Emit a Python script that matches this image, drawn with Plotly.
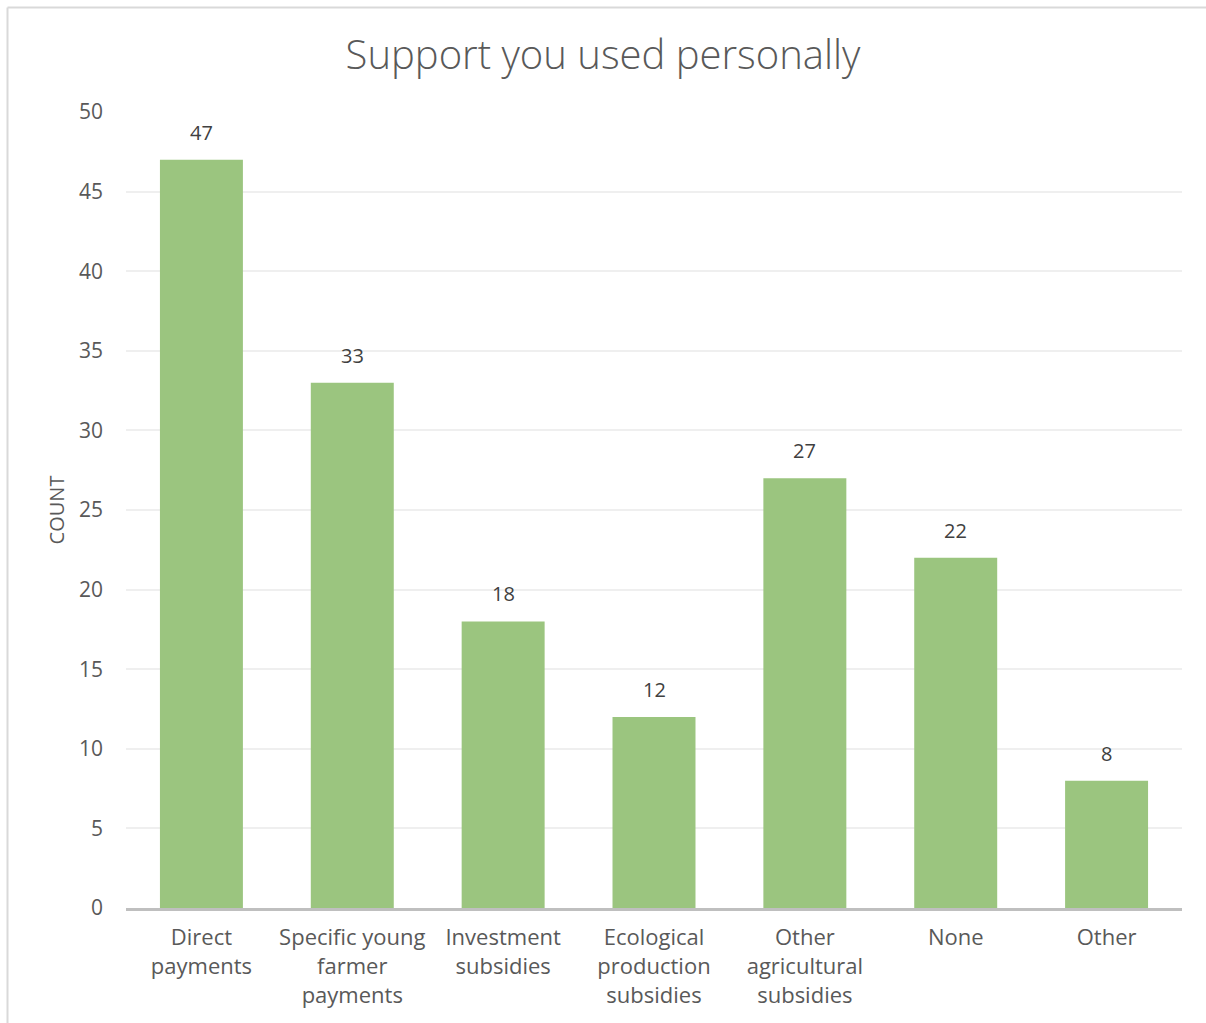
import plotly.graph_objects as go

categories = [
    "Direct<br>payments",
    "Specific young<br>farmer<br>payments",
    "Investment<br>subsidies",
    "Ecological<br>production<br>subsidies",
    "Other<br>agricultural<br>subsidies",
    "None",
    "Other",
]
counts = [47, 33, 18, 12, 27, 22, 8]
y_ticks = [0, 5, 10, 15, 20, 25, 30, 35, 40, 45, 50]

FONT = "'Open Sans', Lato, sans-serif"
TEXT = "#595959"

fig = go.Figure(
    go.Bar(
        x=categories,
        y=counts,
        marker=dict(color="#9BC57F", line=dict(width=0)),
        width=0.55,
        hoverinfo="x+y",
    )
)

# value labels above each bar
for cat, val in zip(categories, counts):
    fig.add_annotation(
        x=cat, y=val, text=str(val), showarrow=False,
        yanchor="bottom", yshift=12,
        font=dict(family=FONT, size=20, color="#404040"),
    )

W, H = 1206, 1023
ml, mr, mt, mb = 126, 24, 112, 115
pw, ph = W - ml - mr, H - mt - mb

fig.update_layout(
    width=W,
    height=H,
    margin=dict(l=ml, r=mr, t=mt, b=mb),
    paper_bgcolor="white",
    plot_bgcolor="white",
    showlegend=False,
    title=dict(
        text="Support you used personally",
        x=0.5,
        xanchor="center",
        y=1 - 55 / H,
        yanchor="middle",
        font=dict(family=FONT, size=40, color=TEXT, weight=300),
    ),
    font=dict(family=FONT, color=TEXT),
    bargap=0.45,
)

fig.update_xaxes(
    showgrid=False,
    showline=True,
    linecolor="#BFBFBF",
    linewidth=3,
    ticks="",
    tickfont=dict(family=FONT, size=22, color=TEXT),
    ticklabelstandoff=8,
)
fig.update_yaxes(
    range=[0, 50],
    tickvals=y_ticks,
    showgrid=True,
    gridcolor="#EFEFEF",
    gridwidth=1.5,
    zeroline=False,
    showline=False,
    ticks="",
    tickfont=dict(family=FONT, size=21, color=TEXT),
    ticklabelstandoff=22,
    title=dict(text="COUNT", font=dict(family=FONT, size=20, color=TEXT), standoff=8),
)

# thin frame lines along the top and left edges of the chart area
fx0 = (7.5 - ml) / pw
fy_top = (H - 7.5 - mb) / ph
fy_bot = (0 - mb) / ph
fig.add_shape(type="line", xref="paper", yref="paper", x0=fx0, x1=(W - ml) / pw,
              y0=fy_top, y1=fy_top, line=dict(color="#D9D9D9", width=2))
fig.add_shape(type="line", xref="paper", yref="paper", x0=fx0, x1=fx0,
              y0=fy_bot, y1=fy_top, line=dict(color="#D9D9D9", width=2))

fig.write_html("out.html")
